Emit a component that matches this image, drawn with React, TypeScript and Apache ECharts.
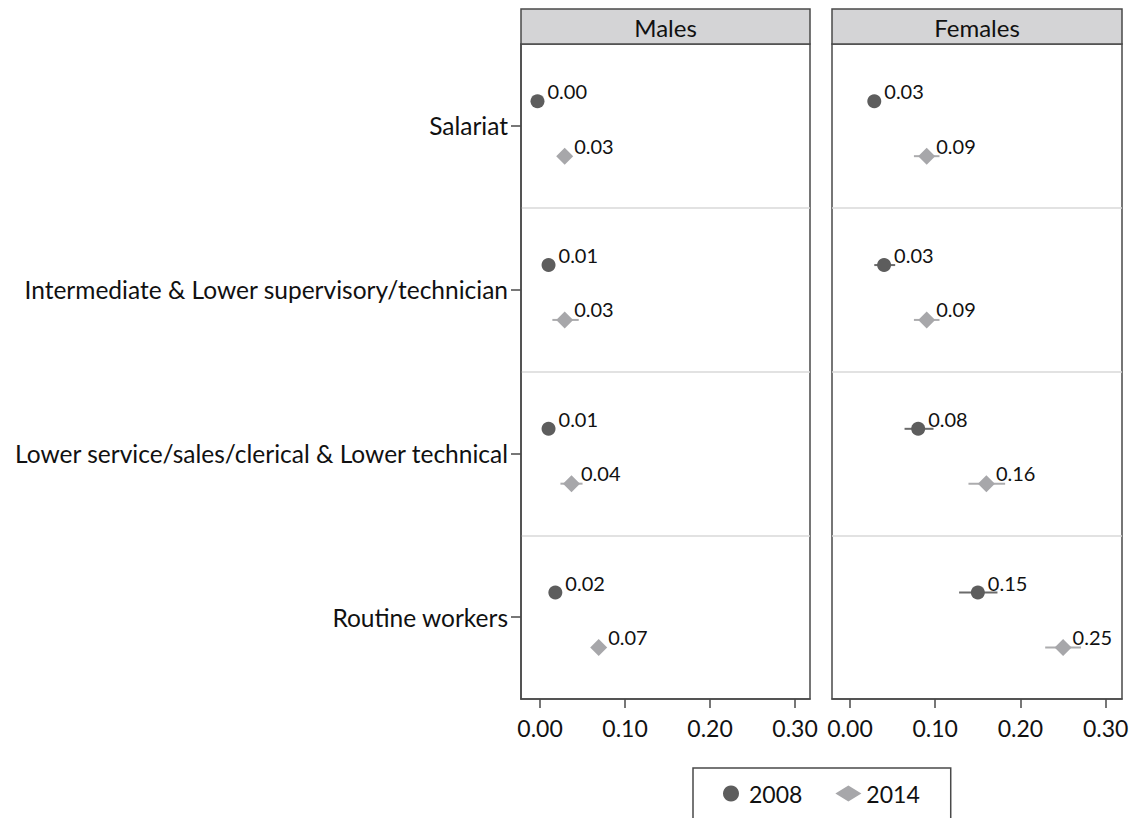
import React, { useEffect, useRef } from "react";
import * as echarts from "echarts";

const categories = [
  "Salariat",
  "Intermediate & Lower supervisory/technician",
  "Lower service/sales/clerical & Lower technical",
  "Routine workers",
];
const panels = ["Males", "Females"];
const years = ["2008", "2014"];
const xTicks = [0, 0.1, 0.2, 0.3];

// Males
const males2008 = [-0.003, 0.01, 0.01, 0.018];
const males2008Lo = [-0.007, 0.006, 0.006, 0.013];
const males2008Hi = [0.001, 0.014, 0.014, 0.023];
const males2008Labels = ["0.00", "0.01", "0.01", "0.02"];
const males2014 = [0.029, 0.029, 0.037, 0.069];
const males2014Lo = [0.023, 0.0145, 0.024, 0.063];
const males2014Hi = [0.035, 0.0455, 0.05, 0.075];
const males2014Labels = ["0.03", "0.03", "0.04", "0.07"];

// Females
const females2008 = [0.0285, 0.04, 0.08, 0.15];
const females2008Lo = [0.024, 0.0285, 0.064, 0.128];
const females2008Hi = [0.033, 0.053, 0.098, 0.173];
const females2008Labels = ["0.03", "0.03", "0.08", "0.15"];
const females2014 = [0.09, 0.09, 0.16, 0.25];
const females2014Lo = [0.075, 0.075, 0.139, 0.229];
const females2014Hi = [0.105, 0.105, 0.182, 0.271];
const females2014Labels = ["0.09", "0.09", "0.16", "0.25"];

const FONT = "Lato";
const TEXT = "#111111";
const BORDER = "#4a4a4a";
const C2008 = "#5d5d5d";
const C2014 = "#a7a7aa";
const W2008 = "#6b6b6b";
const W2014 = "#acacae";

const grids = [
  { left: 521, top: 44, width: 289, height: 655, min: -0.0224, max: 0.3176 },
  { left: 832, top: 44, width: 290, height: 655, min: -0.0211, max: 0.3191 },
];

const yOffsets = [0.35, 0.685];

const panelData = [
  [
    { v: males2008, lo: males2008Lo, hi: males2008Hi, lab: males2008Labels },
    { v: males2014, lo: males2014Lo, hi: males2014Hi, lab: males2014Labels },
  ],
  [
    { v: females2008, lo: females2008Lo, hi: females2008Hi, lab: females2008Labels },
    { v: females2014, lo: females2014Lo, hi: females2014Hi, lab: females2014Labels },
  ],
];

export default function App() {
  const ref = useRef<HTMLDivElement>(null);
  useEffect(() => {
    if (!ref.current) return;
    const chart = echarts.init(ref.current, null, { renderer: "svg" });

    const series: any[] = [];
    panelData.forEach((pd, p) => {
      pd.forEach((d, yi) => {
        const color = yi === 0 ? C2008 : C2014;
        const wcolor = yi === 0 ? W2008 : W2014;
        series.push({
          type: "custom",
          name: "ci" + years[yi] + p,
          xAxisIndex: p,
          yAxisIndex: p,
          z: 2,
          encode: { x: [0, 1], y: 2 },
          data: d.v.map((_, i) => [d.lo[i], d.hi[i], i + yOffsets[yi]]),
          renderItem: (params: any, api: any) => {
            const a = api.coord([api.value(0), api.value(2)]);
            const b = api.coord([api.value(1), api.value(2)]);
            return {
              type: "line",
              shape: { x1: a[0], y1: a[1], x2: b[0], y2: b[1] },
              style: { stroke: wcolor, lineWidth: 2 },
            };
          },
        });
        series.push({
          type: "scatter",
          name: years[yi],
          xAxisIndex: p,
          yAxisIndex: p,
          z: 3,
          symbol: yi === 0 ? "circle" : "diamond",
          symbolSize: yi === 0 ? 14 : [17, 17],
          itemStyle: { color, opacity: 1 },
          label: {
            show: true,
            position: yi === 0 ? [17, -3] : [18, -2],
            align: "left",
            verticalAlign: "middle",
            fontFamily: FONT,
            fontSize: 20,
            color: TEXT,
            formatter: (pp: any) => d.lab[pp.dataIndex],
          },
          emphasis: { disabled: true },
          data: d.v.map((v, i) => [v, i + yOffsets[yi]]),
        });
      });
    });

    const graphic: any[] = [];
    grids.forEach((g, p) => {
      graphic.push({
        type: "rect",
        shape: { x: g.left, y: 9, width: g.width, height: 35 },
        style: { fill: "#d4d4d6", stroke: BORDER, lineWidth: 1.5 },
        z: 10,
      });
      graphic.push({
        type: "text",
        x: g.left + g.width / 2,
        y: 27,
        style: {
          text: panels[p],
          fontFamily: FONT,
          fontSize: 24,
          fill: TEXT,
          align: "center",
          verticalAlign: "middle",
        },
        z: 11,
      });
    });

    const option: any = {
      animation: false,
      backgroundColor: "#ffffff",
      grid: grids.map((g) => ({
        left: g.left,
        top: g.top,
        width: g.width,
        height: g.height,
        show: true,
        borderColor: BORDER,
        borderWidth: 1.5,
        backgroundColor: "transparent",
      })),
      xAxis: grids.map((g, p) => ({
        type: "value",
        gridIndex: p,
        position: "bottom",
        min: g.min,
        max: g.max,
        axisLine: { show: true, onZero: false, lineStyle: { color: BORDER, width: 1.5 } },
        axisTick: {
          show: true,
          customValues: xTicks,
          length: 9,
          lineStyle: { color: BORDER, width: 1.5 },
        },
        axisLabel: {
          customValues: xTicks,
          formatter: (v: number) => v.toFixed(2),
          fontFamily: FONT,
          fontSize: 23,
          color: TEXT,
          margin: 17,
        },
        splitLine: { show: false },
      })),
      yAxis: [
        ...grids.map((g, p) => ({
          type: "value",
          gridIndex: p,
          position: "right",
          min: 0,
          max: 4,
          interval: 1,
          inverse: true,
          axisLine: { show: false, onZero: false },
          axisTick: { show: false },
          axisLabel: { show: false },
          splitLine: {
            show: true,
            showMinLine: false,
            showMaxLine: false,
            lineStyle: { color: "#d9d9d9", width: 1.5 },
          },
        })),
        {
          type: "category",
          gridIndex: 0,
          position: "left",
          data: categories,
          inverse: true,
          boundaryGap: true,
          axisLine: { show: true, onZero: false, lineStyle: { color: BORDER, width: 1.5 } },
          axisTick: {
            show: true,
            alignWithLabel: true,
            length: 10,
            lineStyle: { color: BORDER, width: 1.5 },
          },
          axisLabel: {
            fontFamily: FONT,
            fontSize: 24.5,
            color: TEXT,
            margin: 13,
          },
          splitLine: { show: false },
        },
      ],
      legend: {
        data: [
          { name: "2008", icon: "circle", itemStyle: { color: C2008 } },
          { name: "2014", icon: "diamond", itemStyle: { color: C2014 } },
        ],
        left: 693,
        top: 768,
        orient: "horizontal",
        borderColor: BORDER,
        borderWidth: 1.5,
        padding: [14, 31, 19, 30],
        itemWidth: 26,
        itemHeight: 16,
        itemGap: 33,
        selectedMode: false,
        textStyle: { fontFamily: FONT, fontSize: 23, color: TEXT },
      },
      graphic,
      series,
    };
    chart.setOption(option);
    return () => chart.dispose();
  }, []);
  return (
    <div
      ref={ref}
      style={{ position: "absolute", left: 0, top: 0, width: 1137, height: 818 }}
    />
  );
}
